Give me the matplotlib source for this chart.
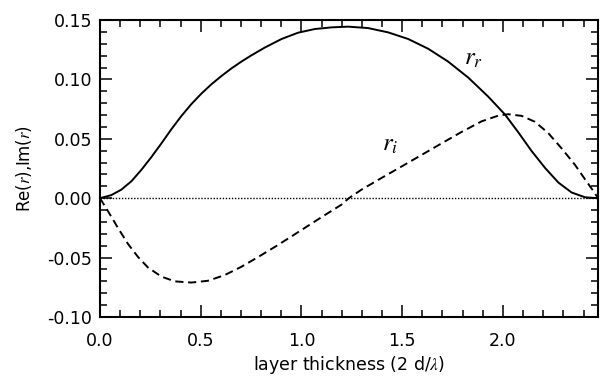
import matplotlib
matplotlib.use("Agg")
import matplotlib.pyplot as plt
from matplotlib.ticker import MultipleLocator

plt.rcParams["font.family"] = ["DejaVu Sans"]
plt.rcParams["mathtext.fontset"] = "stix"

# values
rr_x = [0, 0.056, 0.106, 0.156, 0.205, 0.255, 0.305, 0.354, 0.404, 0.454,
        0.503, 0.553, 0.603, 0.652, 0.702, 0.752, 0.818, 0.901, 0.983, 1.066,
        1.149, 1.232, 1.331, 1.430, 1.530, 1.629, 1.728, 1.828, 1.927, 2.010,
        2.076, 2.142, 2.209, 2.275, 2.341, 2.407, 2.472]
rr_y = [0, 0.0026, 0.0072, 0.0143, 0.0238, 0.0346, 0.0462, 0.0580, 0.0692, 0.0793,
        0.088, 0.0959, 0.1029, 0.1092, 0.1150, 0.1203, 0.1268, 0.1340, 0.1393, 0.1424,
        0.1438, 0.1444, 0.1432, 0.1396, 0.1340, 0.1258, 0.1150, 0.1015, 0.0855, 0.0705,
        0.0555, 0.0398, 0.0255, 0.0132, 0.0048, 0.0008, 0]

ri_x = [0, 0.04, 0.089, 0.139, 0.189, 0.238, 0.305, 0.371, 0.454, 0.536,
        0.619, 0.702, 0.785, 0.868, 0.950, 1.033, 1.116, 1.199, 1.235, 1.298,
        1.397, 1.497, 1.596, 1.695, 1.795, 1.894, 1.977, 2.026, 2.093, 2.159,
        2.225, 2.291, 2.358, 2.407, 2.449, 2.472]
ri_y = [0, -0.011, -0.025, -0.0385, -0.0495, -0.0583, -0.0660, -0.0700, -0.0710, -0.0695,
        -0.0647, -0.0577, -0.0495, -0.0410, -0.0322, -0.0232, -0.0142, -0.0054, 0, 0.0072,
        0.0170, 0.0267, 0.0364, 0.0461, 0.0558, 0.0647, 0.0695, 0.0707, 0.0693, 0.0643,
        0.0548, 0.0420, 0.0280, 0.0160, 0.0060, 0]

x_max = 2.472

fig = plt.figure(figsize=(6.02, 3.76), dpi=100)
ax = fig.add_axes([0.1661, 0.1569, 0.8273, 0.7899])

ax.plot([0, x_max], [0, 0], color="black", lw=1.0, ls=(0, (1, 1.2)))
ax.plot(rr_x, rr_y, color="black", lw=1.4)
ax.plot(ri_x, ri_y, color="black", lw=1.4, dashes=(4.2, 2.4))

ax.text(1.855, 0.118, r"$r_r$", fontsize=18, ha="center", va="center")
ax.text(1.44, 0.046, r"$r_i$", fontsize=18, ha="center", va="center")

ax.set_xlim(0, x_max)
ax.set_ylim(-0.10, 0.15)
ax.xaxis.set_major_locator(MultipleLocator(0.5))
ax.xaxis.set_minor_locator(MultipleLocator(0.1))
ax.yaxis.set_major_locator(MultipleLocator(0.05))
ax.yaxis.set_minor_locator(MultipleLocator(0.01))
ax.xaxis.set_major_formatter(lambda v, p: f"{v:.1f}")
ax.yaxis.set_major_formatter(lambda v, p: f"{v:.2f}")

ax.tick_params(which="both", direction="in", top=True, right=True, width=1.1,
               labelsize=12.5)
ax.tick_params(axis="x", pad=11)
ax.tick_params(axis="y", pad=5.5)
ax.tick_params(which="major", length=8.5)
ax.tick_params(which="minor", length=5)
for s in ax.spines.values():
    s.set_linewidth(1.5)

ax.set_xlabel(r"layer thickness (2 d/$\lambda$)", fontsize=12.5, labelpad=3)
ax.set_ylabel(r"Re($r$),Im($r$)", fontsize=12, labelpad=10)

fig.savefig("out.png", dpi=100)
